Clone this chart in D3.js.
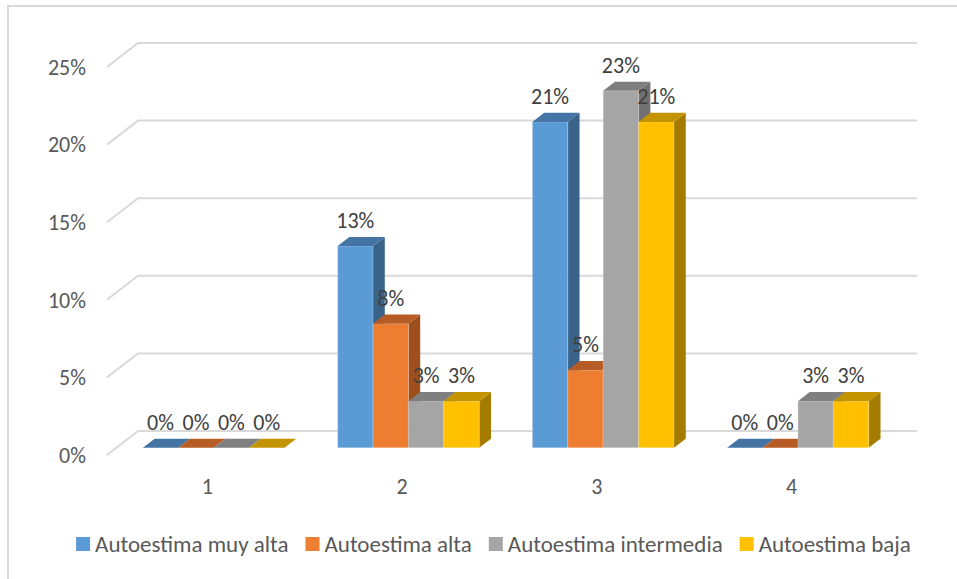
<!DOCTYPE html>
<html>
<head>
<meta charset="utf-8">
<script src="https://cdn.jsdelivr.net/npm/d3@7"></script>
<style>
  body { margin: 0; background: #fff; }
  svg { display: block; font-family: Carlito, Lato, "Open Sans", sans-serif; }
</style>
</head>
<body>
<div id="chart"></div>
<script>
var categories = ['1', '2', '3', '4'];
var seriesNames = ['Autoestima muy alta', 'Autoestima alta', 'Autoestima intermedia', 'Autoestima baja'];
var muyAlta = [0, 13, 21, 0];
var alta = [0, 8, 5, 0];
var intermedia = [0, 3, 23, 3];
var baja = [0, 3, 21, 3];
var tickValues = [0, 5, 10, 15, 20, 25];

var seriesValues = [muyAlta, alta, intermedia, baja];
var colors = [
  { front: '#5B9BD5', top: '#4474A3', side: '#3A6389' },
  { front: '#ED7D31', top: '#B85C25', side: '#9E501C' },
  { front: '#A5A5A5', top: '#7F7F7F', side: '#717171' },
  { front: '#FFC000', top: '#C49400', side: '#A67C00' }
];

var W = 957, H = 579,
    DX = 31, DY = -24,      // full depth of the floor
    D0 = 0.3, D1 = 0.68;    // bar depth band

var svg = d3.select('#chart').append('svg')
  .attr('width', W)
  .attr('height', H);

svg.append('rect')
  .attr('x', 8).attr('y', 6)
  .attr('width', 980).attr('height', 620)
  .attr('fill', '#fff')
  .attr('stroke', '#D9D9D9')
  .attr('stroke-width', 2);

var x0 = d3.scaleBand().domain(categories).range([107, 886]);
var bw = x0.bandwidth();
var x1 = d3.scaleBand().domain(seriesNames).range([bw * 0.75 / 5.5, bw * 4.75 / 5.5]);
var y = d3.scaleLinear().domain([0, 25]).range([455, 67]);

var proj = function (px, v, d) {
  return [px + DX * d, y(v) + DY * d];
};
var poly = function (pts) {
  return 'M' + pts.map(function (p) { return p[0] + ',' + p[1]; }).join('L') + 'Z';
};

// gridlines: short diagonal on the side wall, then across the back wall
svg.append('g').selectAll('path.grid')
  .data(tickValues)
  .enter()
  .append('path')
  .attr('class', 'grid')
  .attr('d', function (t) {
    var a = proj(107, t, 0), b = proj(107, t, 1), c = proj(886, t, 1);
    return 'M' + a + 'L' + b + 'L' + c;
  })
  .attr('fill', 'none')
  .attr('stroke', '#D9D9D9')
  .attr('stroke-width', 2);

// y tick labels
svg.append('g').selectAll('text')
  .data(tickValues)
  .enter()
  .append('text')
  .attr('x', 86)
  .attr('y', function (t) { return y(t); })
  .attr('dy', '0.35em')
  .attr('text-anchor', 'end')
  .attr('fill', '#595959')
  .style('font-size', '22px')
  .text(function (t) { return t + '%'; });

// category labels
svg.append('g').selectAll('text')
  .data(categories)
  .enter()
  .append('text')
  .attr('x', function (c) { return x0(c) + bw / 2 + 3; })
  .attr('y', 486)
  .attr('dy', '0.35em')
  .attr('text-anchor', 'middle')
  .attr('fill', '#595959')
  .style('font-size', '22px')
  .text(function (c) { return c; });

// bars
var bars = [];
categories.forEach(function (c, i) {
  seriesNames.forEach(function (s, j) {
    bars.push({ cat: c, s: s, j: j, v: seriesValues[j][i] });
  });
});

var barG = svg.append('g').selectAll('g.bar')
  .data(bars)
  .enter()
  .append('g')
  .attr('class', 'bar');

barG.each(function (b) {
  var g = d3.select(this),
      xl = x0(b.cat) + x1(b.s),
      xr = xl + x1.bandwidth(),
      col = colors[b.j];
  if (b.v > 0) {
    g.append('path')
      .attr('d', poly([proj(xr, 0, D0), proj(xr, 0, D1), proj(xr, b.v, D1), proj(xr, b.v, D0)]))
      .attr('fill', col.side);
    g.append('path')
      .attr('d', poly([proj(xl, 0, D0), proj(xr, 0, D0), proj(xr, b.v, D0), proj(xl, b.v, D0)]))
      .attr('fill', col.front)
      .attr('stroke', 'rgba(255,255,255,0.25)')
      .attr('stroke-width', 1);
  }
  g.append('path')
    .attr('d', poly([proj(xl, b.v, D0), proj(xr, b.v, D0), proj(xr, b.v, D1), proj(xl, b.v, D1)]))
    .attr('fill', col.top);
});

// data labels on top
svg.append('g').selectAll('text')
  .data(bars)
  .enter()
  .append('text')
  .attr('x', function (b) { return x0(b.cat) + x1(b.s) + x1.bandwidth() / 2 + DX * D0; })
  .attr('y', function (b) { return y(b.v) + DY * D0 - 18; })
  .attr('text-anchor', 'middle')
  .attr('fill', '#404040')
  .style('font-size', '22px')
  .text(function (b) { return b.v + '%'; });

// legend
var legend = svg.append('g');
var lx = 0;
seriesNames.forEach(function (s, j) {
  legend.append('rect')
    .attr('x', lx).attr('y', 537)
    .attr('width', 14).attr('height', 14)
    .attr('fill', colors[j].front);
  var t = legend.append('text')
    .attr('x', lx + 19)
    .attr('y', 544)
    .attr('dy', '0.35em')
    .attr('fill', '#595959')
    .style('font-size', '23px')
    .text(s);
  lx += 19 + t.node().getComputedTextLength() + 17;
});
lx -= 17;
legend.attr('transform', 'translate(' + (493.5 - lx / 2) + ',0)');
</script>
</body>
</html>
